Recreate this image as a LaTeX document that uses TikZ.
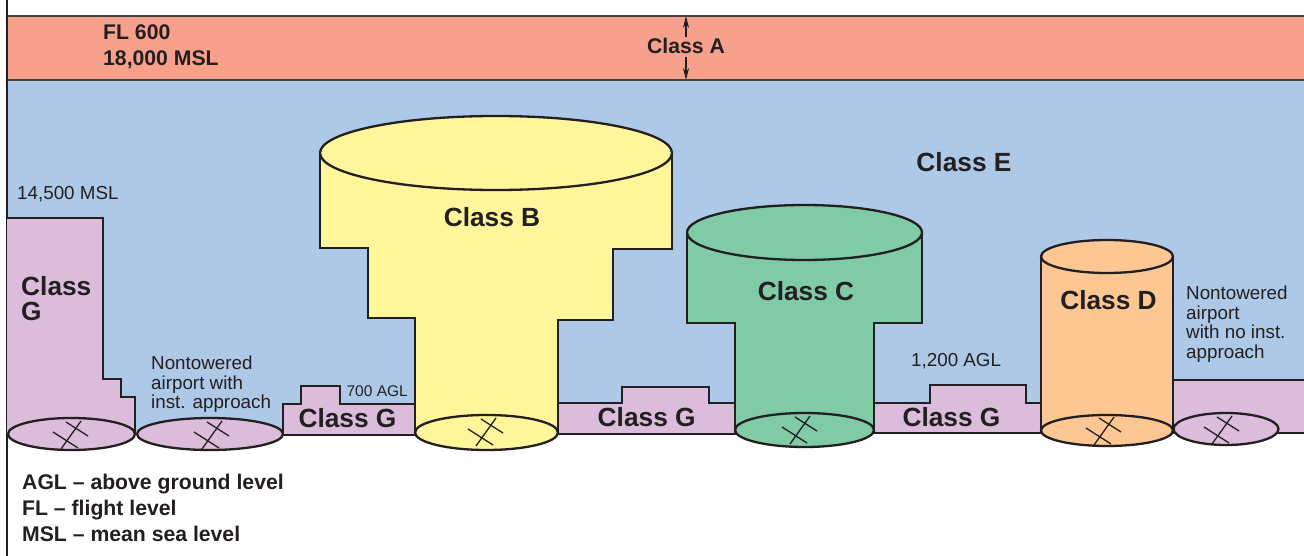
\documentclass[tikz,border=0pt]{standalone}
\usepackage{fontspec}
\setmainfont{Liberation Sans}
\usetikzlibrary{arrows.meta}
\definecolor{bandred}{HTML}{F7A18D}
\definecolor{skyblue}{HTML}{AEC8E8}
\definecolor{gpink}{HTML}{DBBCDB}
\definecolor{byellow}{HTML}{FFF59B}
\definecolor{cgreen}{HTML}{80CAA6}
\definecolor{dorange}{HTML}{FDC794}
\definecolor{ink}{HTML}{231F20}
\tikzset{
  zone/.style={draw=ink, line width=2.3pt, line join=miter},
  bandline/.style={draw=ink!85, line width=2pt},
  bigclass/.style={font=\bfseries\fontsize{26.3}{28}\selectfont, text=ink, inner sep=0pt},
  medbold/.style={font=\bfseries\fontsize{21.2}{23}\selectfont, text=ink, inner sep=0pt},
  note/.style={font=\fontsize{18.8}{19.4}\selectfont, text=ink, inner sep=0pt, align=left},
  smallnote/.style={font=\fontsize{15.5}{17}\selectfont, text=ink, inner sep=0pt},
  rwy/.pic={
    \draw[ink, line width=1.3pt] (-10,14) -- (10,-14);
    \draw[ink, line width=1.3pt] (-18,-3) -- (7,13);
    \draw[ink, line width=1.3pt] (-5,-13) -- (17,1);
  }
}
\begin{document}
\begin{tikzpicture}[x=1pt,y=-1pt]
\useasboundingbox (0,0) rectangle (1304,556);
\fill[white] (0,0) rectangle (1304,556);
% bands
\fill[bandred] (7,16) rectangle (1304,80);
\fill[skyblue] (7,80) rectangle (1304,434);
\draw[bandline] (7,16) -- (1304,16);
\draw[bandline] (7,80) -- (1304,80);
\draw[ink, line width=2.2pt] (7,0) -- (7,556);
% Class A label and arrows
\node[medbold, anchor=base] (clA) at (686,53.3) {Class A};
\coordinate (atop) at (686,16);
\coordinate (abot) at (686,80);
\draw[ink, line width=1.4pt, -{Stealth[length=12pt,width=6pt]}] (686,37) -- (atop);
\draw[ink, line width=1.4pt, -{Stealth[length=12pt,width=6pt]}] (686,57) -- (abot);
\node[medbold, anchor=base west] (fl) at (103,39.3) {FL 600};
\node[medbold, anchor=base west] (msl) at (103,65.7) {18,000 MSL};
% left Class G block
\filldraw[zone, fill=gpink] (7,218) -- (103,218) -- (103,379) -- (121,379) -- (121,397) -- (135,397) -- (135,434) -- (7,434);
\filldraw[zone, fill=gpink] (71.5,434) ellipse [x radius=63.5pt, y radius=16pt];
\pic at (71,435) {rwy};
\filldraw[zone, fill=gpink] (210,434) ellipse [x radius=73pt, y radius=16pt];
\pic at (212,435) {rwy};
% G segment 1
\filldraw[zone, fill=gpink] (283,435) -- (283,404) -- (301,404) -- (301,386) -- (340,386) -- (340,404) -- (415,404) -- (415,435) -- cycle;
% G segment 2
\filldraw[zone, fill=gpink] (558,434) -- (558,403) -- (622,403) -- (622,387) -- (709,387) -- (709,403) -- (735,403) -- (735,434) -- cycle;
% G segment 3
\filldraw[zone, fill=gpink] (874,433) -- (874,403) -- (930,403) -- (930,385) -- (1026,385) -- (1026,403) -- (1041,403) -- (1041,433) -- cycle;
% right block
\fill[gpink] (1173,380) rectangle (1304,433);
\draw[zone] (1304,380) -- (1173,380) -- (1173,433) -- (1304,433);
% Class B
\filldraw[zone, fill=byellow] (320,153) -- (320,248) -- (368,248) -- (368,318) -- (415,318) -- (415,432) -- (558,432) -- (558,320) -- (613,320) -- (613,249) -- (672,249) -- (672,153) -- cycle;
\filldraw[zone, fill=byellow] (496,153) ellipse [x radius=176pt, y radius=37pt];
\filldraw[zone, fill=byellow] (486.5,432.5) ellipse [x radius=71.5pt, y radius=17.5pt];
\pic at (486,432) {rwy};
% Class C
\filldraw[zone, fill=cgreen] (687,232.5) -- (687,323) -- (735,323) -- (735,430) -- (874,430) -- (874,323) -- (922,323) -- (922,232.5) -- cycle;
\filldraw[zone, fill=cgreen] (804.5,232.5) ellipse [x radius=117.5pt, y radius=27.5pt];
\filldraw[zone, fill=cgreen] (804.5,430) ellipse [x radius=69.5pt, y radius=17pt];
\pic at (800,430) {rwy};
% Class D
\filldraw[zone, fill=dorange] (1041,256.5) -- (1041,430.5) -- (1173,430.5) -- (1173,256.5) -- cycle;
\filldraw[zone, fill=dorange] (1107,256.5) ellipse [x radius=66pt, y radius=16.5pt];
\filldraw[zone, fill=dorange] (1107,430.5) ellipse [x radius=66pt, y radius=15.5pt];
\pic at (1104,431) {rwy};
% right airport
\filldraw[zone, fill=gpink] (1226,429) ellipse [x radius=52.5pt, y radius=16pt];
\pic at (1222,430) {rwy};
% labels
\node[bigclass, anchor=base] (clE) at (964,172) {Class E};
\node[bigclass, anchor=base] (clB) at (492,226) {Class B};
\node[bigclass, anchor=base] (clC) at (806,300) {Class C};
\node[bigclass, anchor=base] (clD) at (1108.5,309.3) {Class D};
\node[bigclass, anchor=base west] (clG1) at (21,295) {Class};
\node[bigclass, anchor=base west] (clG2) at (21,320) {G};
\node[bigclass, anchor=base] (g1) at (347.5,427.3) {Class G};
\node[bigclass, anchor=base] (g2) at (646.7,426.7) {Class G};
\node[bigclass, anchor=base] (g3) at (951.5,426.7) {Class G};
\node[note, anchor=base west] (m145) at (17,200) {14,500 MSL};
\node[note, anchor=north west] (nt1) at (151,356) {Nontowered\\airport with\\inst. approach};
\node[note, anchor=north west] (nt2) at (1186,286) {Nontowered\\airport\\with no inst.\\approach};
\node[smallnote, anchor=base east] (a700) at (408,396) {700 AGL};
\node[note, anchor=base west] (a1200) at (911,366.5) {1,200 AGL};
% legend
\node[medbold, anchor=base west] (lg1) at (22,489.3) {AGL – above ground level};
\node[medbold, anchor=base west] (lg2) at (22,515.7) {FL – flight level};
\node[medbold, anchor=base west] (lg3) at (22,541.7) {MSL – mean sea level};
\end{tikzpicture}
\end{document}
